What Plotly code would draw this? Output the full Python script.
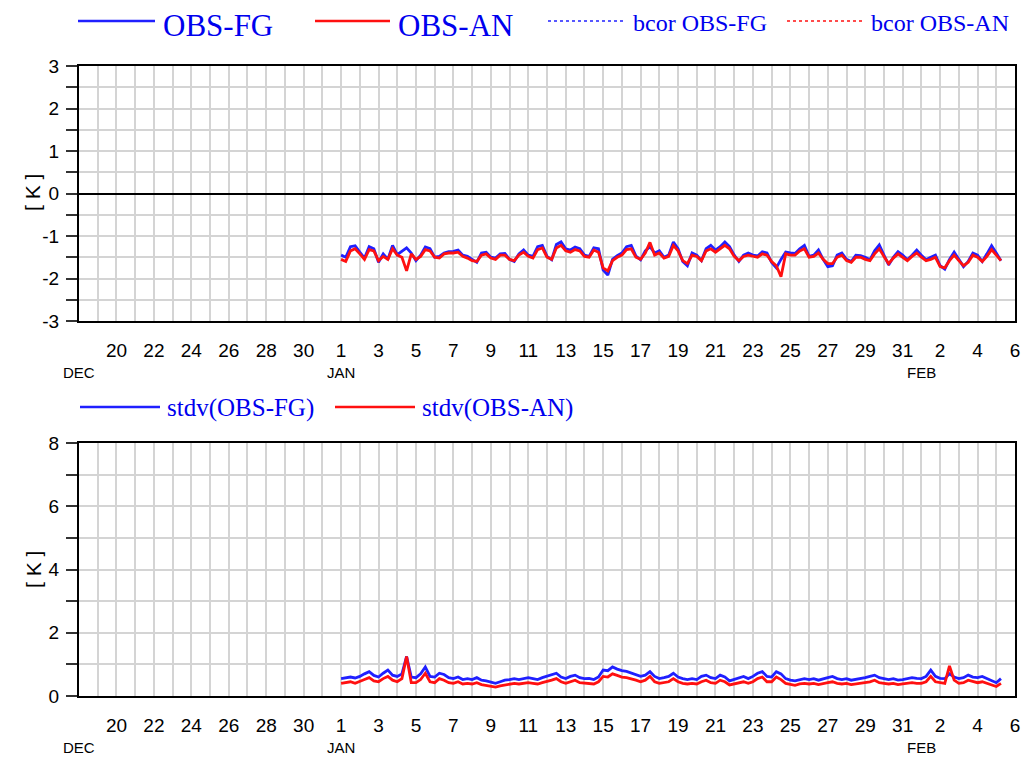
import pandas as pd
import plotly.graph_objects as go

# --- data (6-hourly, starting 1 Jan 00 UTC) ---
OBS_FG = [-1.45, -1.50, -1.25, -1.23, -1.38, -1.52, -1.25, -1.30, -1.62, -1.42, -1.55, -1.22,
          -1.44, -1.35, -1.28, -1.40, -1.58, -1.45, -1.26, -1.30, -1.50, -1.48, -1.40, -1.37,
          -1.36, -1.33, -1.45, -1.48, -1.55, -1.62, -1.40, -1.38, -1.50, -1.52, -1.42, -1.41,
          -1.55, -1.60, -1.42, -1.33, -1.45, -1.48, -1.25, -1.22, -1.48, -1.56, -1.20, -1.14,
          -1.30, -1.33, -1.26, -1.30, -1.45, -1.48, -1.28, -1.30, -1.80, -1.92, -1.55, -1.46,
          -1.40, -1.25, -1.22, -1.47, -1.56, -1.35, -1.25, -1.40, -1.35, -1.50, -1.45, -1.14,
          -1.30, -1.60, -1.70, -1.40, -1.45, -1.58, -1.30, -1.22, -1.33, -1.25, -1.14, -1.25,
          -1.45, -1.60, -1.45, -1.40, -1.45, -1.47, -1.37, -1.40, -1.62, -1.75, -1.55, -1.38,
          -1.40, -1.41, -1.30, -1.22, -1.48, -1.45, -1.33, -1.55, -1.72, -1.70, -1.45, -1.40,
          -1.55, -1.60, -1.45, -1.46, -1.50, -1.56, -1.35, -1.21, -1.45, -1.68, -1.50, -1.37,
          -1.45, -1.56, -1.45, -1.33, -1.45, -1.56, -1.50, -1.45, -1.70, -1.78, -1.55, -1.38,
          -1.55, -1.72, -1.60, -1.40, -1.45, -1.60, -1.42, -1.23, -1.40, -1.58]
OBS_AN = [-1.55, -1.60, -1.35, -1.30, -1.42, -1.55, -1.32, -1.35, -1.58, -1.48, -1.55, -1.30,
          -1.45, -1.50, -1.82, -1.42, -1.55, -1.48, -1.32, -1.35, -1.50, -1.52, -1.42, -1.40,
          -1.40, -1.38, -1.48, -1.52, -1.58, -1.60, -1.45, -1.42, -1.52, -1.55, -1.45, -1.45,
          -1.55, -1.58, -1.45, -1.38, -1.48, -1.52, -1.32, -1.28, -1.50, -1.55, -1.28, -1.22,
          -1.35, -1.38, -1.32, -1.35, -1.48, -1.50, -1.33, -1.38, -1.75, -1.82, -1.58, -1.50,
          -1.45, -1.32, -1.30, -1.50, -1.55, -1.40, -1.15, -1.45, -1.40, -1.52, -1.48, -1.22,
          -1.35, -1.58, -1.65, -1.45, -1.48, -1.58, -1.35, -1.30, -1.38, -1.30, -1.22, -1.30,
          -1.48, -1.58, -1.48, -1.45, -1.48, -1.50, -1.42, -1.45, -1.60, -1.70, -1.96, -1.42,
          -1.45, -1.45, -1.35, -1.30, -1.50, -1.48, -1.40, -1.55, -1.65, -1.65, -1.50, -1.45,
          -1.58, -1.62, -1.50, -1.50, -1.55, -1.58, -1.42, -1.30, -1.48, -1.65, -1.52, -1.42,
          -1.50, -1.58, -1.48, -1.40, -1.50, -1.58, -1.55, -1.50, -1.72, -1.75, -1.58, -1.45,
          -1.58, -1.70, -1.62, -1.45, -1.50, -1.60, -1.48, -1.32, -1.45, -1.58]

STDV_FG = [0.55, 0.58, 0.60, 0.57, 0.62, 0.70, 0.77, 0.65, 0.60, 0.72, 0.82, 0.66,
           0.62, 0.70, 1.25, 0.60, 0.58, 0.70, 0.92, 0.62, 0.60, 0.72, 0.68, 0.58,
           0.55, 0.60, 0.52, 0.55, 0.52, 0.58, 0.50, 0.48, 0.45, 0.40, 0.45, 0.50,
           0.52, 0.55, 0.52, 0.55, 0.58, 0.55, 0.52, 0.58, 0.62, 0.68, 0.72, 0.60,
           0.55, 0.62, 0.66, 0.58, 0.55, 0.56, 0.52, 0.60, 0.82, 0.80, 0.92, 0.85,
           0.80, 0.78, 0.72, 0.68, 0.62, 0.66, 0.77, 0.62, 0.55, 0.58, 0.62, 0.72,
           0.60, 0.55, 0.52, 0.55, 0.52, 0.62, 0.66, 0.58, 0.55, 0.66, 0.60, 0.48,
           0.52, 0.58, 0.62, 0.55, 0.62, 0.72, 0.77, 0.62, 0.60, 0.77, 0.70, 0.55,
           0.50, 0.48, 0.52, 0.55, 0.52, 0.55, 0.50, 0.55, 0.58, 0.62, 0.55, 0.52,
           0.55, 0.50, 0.52, 0.55, 0.58, 0.62, 0.66, 0.58, 0.55, 0.52, 0.55, 0.50,
           0.52, 0.55, 0.58, 0.56, 0.55, 0.62, 0.82, 0.62, 0.56, 0.55, 0.70, 0.60,
           0.55, 0.58, 0.66, 0.60, 0.58, 0.62, 0.55, 0.50, 0.42, 0.55]
STDV_AN = [0.40, 0.42, 0.45, 0.40, 0.45, 0.52, 0.58, 0.48, 0.45, 0.55, 0.62, 0.50,
           0.45, 0.55, 1.25, 0.42, 0.42, 0.52, 0.72, 0.45, 0.42, 0.55, 0.50, 0.42,
           0.40, 0.45, 0.38, 0.40, 0.38, 0.42, 0.36, 0.34, 0.32, 0.28, 0.32, 0.35,
           0.38, 0.40, 0.38, 0.40, 0.42, 0.40, 0.38, 0.42, 0.45, 0.50, 0.55, 0.45,
           0.40, 0.45, 0.50, 0.42, 0.40, 0.40, 0.38, 0.45, 0.62, 0.60, 0.70, 0.65,
           0.60, 0.58, 0.55, 0.50, 0.45, 0.50, 0.62, 0.45, 0.40, 0.42, 0.45, 0.55,
           0.45, 0.40, 0.38, 0.40, 0.38, 0.45, 0.50, 0.42, 0.40, 0.50, 0.45, 0.35,
           0.38, 0.42, 0.45, 0.40, 0.45, 0.55, 0.60, 0.45, 0.45, 0.60, 0.52, 0.40,
           0.36, 0.34, 0.38, 0.40, 0.38, 0.40, 0.36, 0.40, 0.42, 0.45, 0.40, 0.38,
           0.40, 0.36, 0.38, 0.40, 0.42, 0.45, 0.50, 0.42, 0.40, 0.38, 0.40, 0.36,
           0.38, 0.40, 0.42, 0.40, 0.40, 0.45, 0.62, 0.45, 0.42, 0.40, 0.95, 0.50,
           0.40, 0.42, 0.50, 0.45, 0.42, 0.45, 0.40, 0.36, 0.30, 0.40]

TICK_DATES = ["2023-12-20", "2023-12-22", "2023-12-24", "2023-12-26", "2023-12-28", "2023-12-30",
              "2024-01-01", "2024-01-03", "2024-01-05", "2024-01-07", "2024-01-09", "2024-01-11",
              "2024-01-13", "2024-01-15", "2024-01-17", "2024-01-19", "2024-01-21", "2024-01-23",
              "2024-01-25", "2024-01-27", "2024-01-29", "2024-01-31", "2024-02-02", "2024-02-04",
              "2024-02-06"]
TICK_TEXT = ["20", "22", "24", "26", "28", "30", "1", "3", "5", "7", "9", "11", "13", "15",
             "17", "19", "21", "23", "25", "27", "29", "31", "2", "4", "6"]
MONTHS = [("2023-12-18", "DEC"), ("2024-01-01", "JAN"), ("2024-02-01", "FEB")]
BIAS_TICKS = [-3, -2, -1, 0, 1, 2, 3]
BIAS_TEXT = ["-3", "-2", "-1", "0", "1", "2", "3"]   # plain hyphen like the original

X_RANGE = ["2023-12-18", "2024-02-06"]
BLUE = "#2020ff"
RED = "#ff1010"
GRID = "#d4d4d4"
PAGE_MARGIN = 8          # browser body margin, the figure starts 8px in
W, H = 1029 - PAGE_MARGIN, 757 - PAGE_MARGIN


def times(vals):
    return pd.date_range("2024-01-01", periods=len(vals), freq="6h")


def px_x(px):
    """screen pixel -> paper x"""
    return (px - PAGE_MARGIN) / W


def px_y(py):
    """screen pixel -> paper y"""
    return 1 - (py - PAGE_MARGIN) / H


fig = go.Figure()
fig.add_trace(go.Scatter(x=times(OBS_FG), y=OBS_FG, mode="lines",
                         line=dict(color=BLUE, width=2.8), xaxis="x", yaxis="y"))
fig.add_trace(go.Scatter(x=times(OBS_AN), y=OBS_AN, mode="lines",
                         line=dict(color=RED, width=2.8), xaxis="x", yaxis="y"))
fig.add_trace(go.Scatter(x=times(STDV_FG), y=STDV_FG, mode="lines",
                         line=dict(color=BLUE, width=2.8), xaxis="x2", yaxis="y2"))
fig.add_trace(go.Scatter(x=times(STDV_AN), y=STDV_AN, mode="lines",
                         line=dict(color=RED, width=2.8), xaxis="x2", yaxis="y2"))

tick_font = dict(family="Liberation Sans", size=19, color="black")
xcommon = dict(type="date", range=X_RANGE, tickmode="array", tickvals=TICK_DATES,
               ticktext=TICK_TEXT, ticks="", ticklabelstandoff=11, tickfont=tick_font,
               showgrid=True, gridcolor=GRID, gridwidth=1.5, automargin=False,
               minor=dict(dtick=86400000, tick0="2023-12-18", showgrid=True,
                          gridcolor=GRID, gridwidth=1.5),
               showline=True, linecolor="black", linewidth=2, mirror=True, zeroline=False)
ycommon = dict(ticks="outside", ticklen=11, tickwidth=1.5, tickcolor="#333",
               tickfont=tick_font, showgrid=True, gridcolor=GRID, gridwidth=1.5,
               automargin=False, ticklabelstandoff=3,
               showline=True, linecolor="black", linewidth=2, mirror=True)

dom_x = [px_x(79), px_x(1015)]
fig.update_layout(
    template="none",
    width=W, height=H, margin=dict(l=0, r=0, t=0, b=0, autoexpand=False),
    paper_bgcolor="white", plot_bgcolor="white", showlegend=False,
    xaxis=dict(domain=dom_x, anchor="y", **xcommon),
    xaxis2=dict(domain=dom_x, anchor="y2", **xcommon),
    yaxis=dict(domain=[px_y(321), px_y(66)], anchor="x", range=[-3, 3],
               tickmode="array", tickvals=BIAS_TICKS, ticktext=BIAS_TEXT,
               zeroline=True, zerolinecolor="black", zerolinewidth=1.5,
               minor=dict(dtick=0.5, ticks="outside", ticklen=11, tickcolor="#333",
                          showgrid=True, gridcolor=GRID, gridwidth=1.5),
               **ycommon),
    yaxis2=dict(domain=[px_y(696), px_y(443)], anchor="x2", range=[0, 8], dtick=2,
                zeroline=False,
                minor=dict(dtick=1, ticks="outside", ticklen=11, tickcolor="#333",
                           showgrid=True, gridcolor=GRID, gridwidth=1.5),
                **ycommon),
)

# y titles and month labels
for ymid in [px_y(193), px_y(570)]:
    fig.add_annotation(text="[ K ]", x=px_x(33), y=ymid, xref="paper", yref="paper",
                       xanchor="center", yanchor="middle", showarrow=False, textangle=-90,
                       font=dict(family="Liberation Sans", size=21, color="black"))
for xa, ya in [("x", "y domain"), ("x2", "y2 domain")]:
    for d, m in MONTHS:
        fig.add_annotation(text=m, x=d, y=0, xref=xa, yref=ya, yshift=-51,
                           xanchor="center", yanchor="middle", showarrow=False,
                           font=dict(family="Liberation Sans", size=15, color="black"))

# legends drawn by hand
serif = "Liberation Serif"
legend_top = [(78, 155, BLUE, "solid", "OBS-FG", 31),
              (315, 390, RED, "solid", "OBS-AN", 31),
              (548, 625, BLUE, "dot", "bcor OBS-FG", 24),
              (787, 863, RED, "dot", "bcor OBS-AN", 24)]
for x0, x1, col, dash, name, size in legend_top:
    fig.add_shape(type="line", xref="paper", yref="paper", x0=px_x(x0), x1=px_x(x1),
                  y0=px_y(21), y1=px_y(21),
                  line=dict(color=col, width=2.5 if dash == "solid" else 1.5, dash=dash))
    fig.add_annotation(text=name, x=px_x(x1 + 6), y=px_y(26 if size > 30 else 23),
                       xref="paper", yref="paper",
                       xanchor="left", yanchor="middle", showarrow=False,
                       font=dict(family=serif, size=size, color="#0000ee"))

legend_bot = [(80, 160, BLUE, "stdv(OBS-FG)"), (335, 415, RED, "stdv(OBS-AN)")]
for x0, x1, col, name in legend_bot:
    fig.add_shape(type="line", xref="paper", yref="paper", x0=px_x(x0), x1=px_x(x1),
                  y0=px_y(407), y1=px_y(407), line=dict(color=col, width=2.5))
    fig.add_annotation(text=name, x=px_x(x1 + 5), y=px_y(408), xref="paper", yref="paper",
                       xanchor="left", yanchor="middle", showarrow=False,
                       font=dict(family=serif, size=25, color="#0000ee"))

fig.write_html("out.html")
